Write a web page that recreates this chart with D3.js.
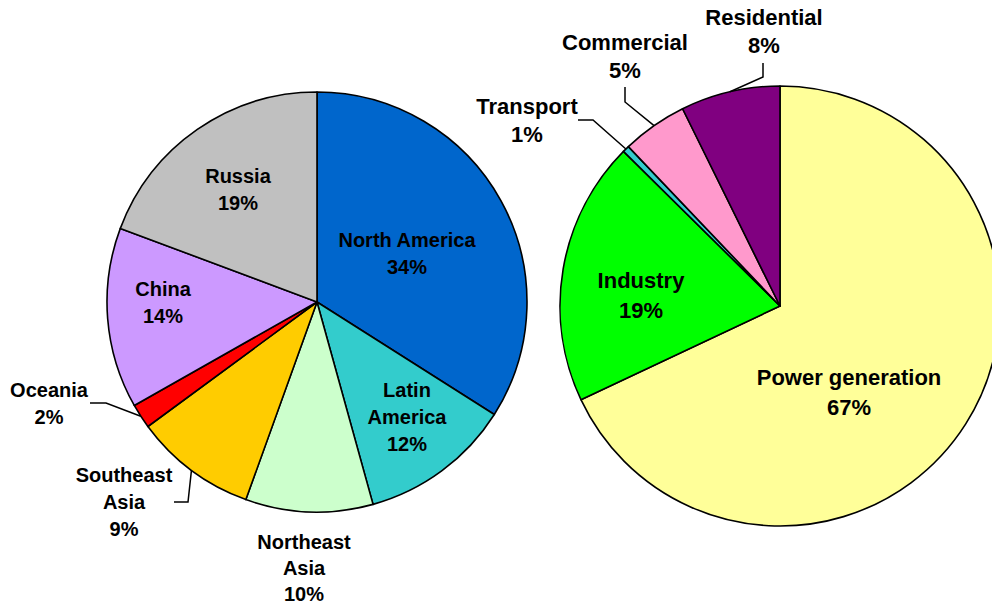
<!DOCTYPE html>
<html><head><meta charset="utf-8">
<script src="https://cdn.jsdelivr.net/npm/d3@7"></script>
<style>html,body{margin:0;padding:0;background:#fff;overflow:hidden}</style>
</head><body>
<svg id="chart" width="992" height="606"></svg>
<script>
// ---- Data ----
const regionNames = ["North America", "Latin America", "Northeast Asia", "Southeast Asia", "Oceania", "China", "Russia"];
const regionValues = [34.0, 11.7, 9.8, 9.4, 1.9, 13.9, 19.3];
const regionLabels = ["34%", "12%", "10%", "9%", "2%", "14%", "19%"];
const sectorNames = ["Power generation", "Industry", "Transport", "Commercial", "Residential"];
const sectorValues = [68.0, 19.4, 0.5, 4.8, 7.3];
const sectorLabels = ["67%", "19%", "1%", "5%", "8%"];

// ---- Styles / layout ----
const regionColors = ["#0066CC", "#33CCCC", "#CCFFCC", "#FFCC00", "#FF0000", "#CC99FF", "#C0C0C0"];
const sectorColors = ["#FFFF99", "#00FF00", "#33CCCC", "#FF99CC", "#800080"];
// label text lines (name split) and anchor (x, first baseline)
const regionLayout = [
  {lines: ["North America"], x: 407, y: 247},
  {lines: ["Latin", "America"], x: 407, y: 397},
  {lines: ["Northeast", "Asia"], x: 304, y: 549, gap: 26},
  {lines: ["Southeast", "Asia"], x: 124, y: 482, leader: [[174, 502], [188, 502]]},
  {lines: ["Oceania"], x: 49, y: 397, leader: [[90, 403], [106, 403]]},
  {lines: ["China"], x: 163, y: 296},
  {lines: ["Russia"], x: 238, y: 183}
];
const sectorLayout = [
  {lines: ["Power generation"], x: 849, y: 385, gap: 30},
  {lines: ["Industry"], x: 641, y: 288, gap: 30},
  {lines: ["Transport"], x: 527, y: 114, gap: 28, leader: [[578, 120], [593, 120]]},
  {lines: ["Commercial"], x: 625, y: 50, gap: 28, leader: [[625, 87], [625, 102]]},
  {lines: ["Residential"], x: 764, y: 25, gap: 28, leader: [[763, 63], [763, 77]]}
];

const svg = d3.select("#chart");

function drawPie(names, values, labels, colors, layout, cx, cy, r, fontSize) {
  const pie = d3.pie().sort(null).value(d => d)(values);
  const arc = d3.arc().innerRadius(0).outerRadius(r);
  const g = svg.append("g").attr("transform", `translate(${cx},${cy})`);
  g.selectAll("path").data(pie).join("path")
    .attr("d", arc)
    .attr("fill", (d, i) => colors[i])
    .attr("stroke", "#000")
    .attr("stroke-width", 1.6)
    .attr("stroke-linejoin", "round");

  pie.forEach((d, i) => {
    const L = layout[i];
    const gap = L.gap || 27;
    const all = L.lines.concat([labels[i]]);
    const t = svg.append("text")
      .attr("text-anchor", "middle")
      .attr("font-family", "'Liberation Sans', Arial, sans-serif")
      .attr("font-weight", "bold")
      .attr("font-size", fontSize)
      .attr("fill", "#000");
    all.forEach((s, k) => {
      t.append("tspan").attr("x", L.x).attr("y", L.y + k * gap).text(s);
    });
    if (L.leader) {
      const mid = (d.startAngle + d.endAngle) / 2;
      const end = [cx + r * Math.sin(mid), cy - r * Math.cos(mid)];
      const pts = L.leader.concat([end]);
      svg.append("path")
        .attr("d", d3.line()(pts))
        .attr("fill", "none")
        .attr("stroke", "#000")
        .attr("stroke-width", 1.5);
    }
  });
}

drawPie(regionNames, regionValues, regionLabels, regionColors, regionLayout, 317, 302, 210, 20);
drawPie(sectorNames, sectorValues, sectorLabels, sectorColors, sectorLayout, 780, 306, 220, 22);
</script>
</body></html>
